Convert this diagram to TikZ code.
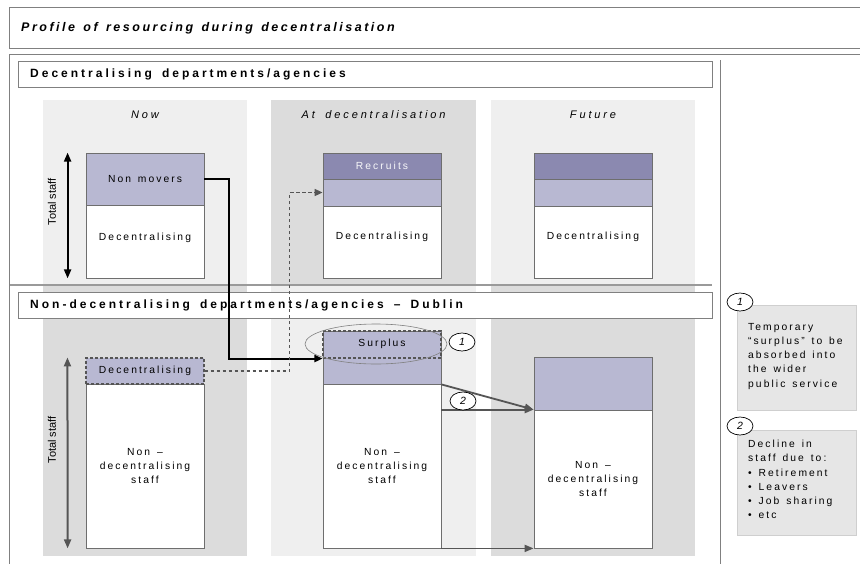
\documentclass[tikz,border=0pt]{standalone}
\usepackage{fontspec}
\setmainfont{Liberation Sans}
\newfontfamily\spf{Liberation Sans}[LetterSpace=20,WordSpace=1.5]
\newfontfamily\hdf{Liberation Sans}[LetterSpace=26,WordSpace=1.8]
\newfontfamily\ttlf{Liberation Sans}[LetterSpace=20,WordSpace=1.4]
\newfontfamily\hbf{Liberation Sans Bold}[LetterSpace=25,WordSpace=1.6]
\usetikzlibrary{arrows.meta,shapes.geometric}
\definecolor{frameC}{HTML}{808080}
\definecolor{bgL}{HTML}{EFEFEF}
\definecolor{bgD}{HTML}{DCDCDC}
\definecolor{boxC}{HTML}{6E6E6E}
\definecolor{purL}{HTML}{B8B8D2}
\definecolor{purD}{HTML}{8B89B0}
\definecolor{arrC}{HTML}{555555}
\definecolor{noteC}{HTML}{E6E6E6}
\definecolor{noteB}{HTML}{CFCFCF}
\begin{document}
\begin{tikzpicture}[x=1pt,y=-1pt,
  every node/.style={inner sep=0pt},
  txt/.style={font=\spf\fontsize{10.3}{14}\selectfont, align=center},
  box/.style={draw=boxC, line width=0.8pt, minimum width=118pt, txt},
  dbox/.style={box, dashed, draw=arrC, line width=1.1pt, dash pattern=on 3pt off 2pt},
  colhead/.style={font=\hdf\itshape\fontsize{11}{13}\selectfont},
  sechead/.style={draw=frameC, line width=0.9pt, fill=white, minimum width=694pt, minimum height=26pt, anchor=north west},
  sectxt/.style={anchor=west, font=\hbf\fontsize{12}{14}\selectfont},
  tslabel/.style={rotate=90, font=\fontsize{11}{13}\selectfont},
  blk/.style={draw=black, line width=2pt, -{Triangle[length=8pt,width=7pt]}},
  dsh/.style={draw=arrC, line width=1.6pt, dash pattern=on 3.5pt off 2.5pt, -{Triangle[length=8pt,width=7pt]}},
  gar/.style={draw=arrC, line width=1.8pt, -{Triangle[length=9pt,width=7pt]}},
  tsarrow/.style={line width=2pt, {Triangle[length=9pt,width=7pt]}-{Triangle[length=9pt,width=7pt]}},
  num/.style={ellipse, draw=black, line width=0.7pt, fill=white, minimum width=26pt, minimum height=18pt, font=\itshape\fontsize{10.5}{12}\selectfont},
  note/.style={draw=noteB, line width=0.8pt, fill=noteC, minimum width=119pt, anchor=north west},
  notetxt/.style={anchor=north west, align=left, font=\spf\fontsize{10.3}{14.2}\selectfont}
]
\useasboundingbox (0,0) rectangle (860,563);
\fill[white] (0,0) rectangle (860,563);
% column backgrounds
\fill[bgL] (43,100) rectangle (247,285);
\fill[bgD] (271,100) rectangle (476,285);
\fill[bgL] (491,100) rectangle (695,285);
\fill[bgD] (43,285) rectangle (247,556);
\fill[bgL] (271,285) rectangle (476,556);
\fill[bgD] (491,285) rectangle (695,556);
% frames
\draw[frameC, line width=0.9pt] (862,7) -- (9,7) -- (9,48) -- (862,48);
\node[anchor=west, font=\ttlf\bfseries\itshape\fontsize{12.5}{14}\selectfont] (title) at (21,28) {Profile of resourcing during decentralisation};
\draw[frameC, line width=0.9pt] (862,54) -- (9,54) -- (9,565);
\draw[frameC, line width=0.9pt] (720,60) -- (720,565);
\draw[frameC!80, line width=1.2pt] (10,285) -- (712,285);
% section headers
\node[sechead] (h1) at (18,61) {};
\node[sectxt] (h1t) at (30,74) {Decentralising departments/agencies};
% column headings
\node[colhead] (c1) at (145,115) {Now};
\node[colhead] (c2) at (373.5,115) {At decentralisation};
\node[colhead] (c3) at (593,115) {Future};
% top boxes
\node[box, fill=purL, minimum height=52pt] (nowA) at (145,179) {};
\node[box, fill=white, minimum height=73pt] (nowB) at (145,241.5) {};
\node[txt] (tNowA) at (nowA.center) {Non movers};
\node[txt] (tNowB) at ([yshift=4pt]nowB.center) {Decentralising};
\node[box, fill=purD, minimum height=26pt] (atA) at (382,166) {};
\node[txt, text=white!90!purL] (tAtA) at (atA.center) {Recruits};
\node[box, fill=purL, minimum height=27pt] (atB) at (382,192.5) {};
\node[box, fill=white, minimum height=72pt] (atC) at (382,242) {};
\node[txt] (tAtC) at ([yshift=5pt]atC.center) {Decentralising};
\node[box, fill=purD, minimum height=26pt] (fuA) at (593,166) {};
\node[box, fill=purL, minimum height=27pt] (fuB) at (593,192.5) {};
\node[box, fill=white, minimum height=72pt] (fuC) at (593,242) {};
\node[txt] (tFuC) at ([yshift=5pt]fuC.center) {Decentralising};
% total staff top
\draw[tsarrow, black] ([xshift=-18pt]nowA.north west) -- ([xshift=-18pt]nowB.south west);
\node[tslabel] (ts1) at (52,202) {Total staff};
% second section header
\node[sechead] (h2) at (18,292) {};
\node[sectxt] (h2t) at (30,305) {Non-decentralising departments/agencies – Dublin};
% bottom boxes
\node[box, fill=white, minimum height=164pt] (nowBb) at (145,466) {};
\node[txt] (tNowBb) at (nowBb.center) {Non –\\decentralising\\staff};
\node[dbox, fill=purL, minimum height=26pt] (nowBa) at (145,371) {};
\node[txt] (tNowBa) at (nowBa.center) {Decentralising};
\node[box, fill=purL, minimum height=53pt] (atBa) at (382,357.5) {};
\node[box, fill=white, minimum height=164pt] (atBb) at (382,466) {};
\node[txt] (tAtBb) at (atBb.center) {Non –\\decentralising\\staff};
\node[dbox, minimum height=27pt] (surp) at (382,344.5) {};
\node[txt] (tSurp) at ([yshift=1pt]surp.center) {Surplus};
\node[ellipse, draw=frameC, line width=0.6pt, minimum width=142pt, minimum height=40pt] (surE) at (376,344) {};
\node[box, fill=purL, minimum height=53pt] (fuBa) at (593,383.5) {};
\node[box, fill=white, minimum height=138pt] (fuBb) at (593,479) {};
\node[txt] (tFuBb) at (fuBb.center) {Non –\\decentralising\\staff};
% total staff bottom
\draw[tsarrow, arrC] ([xshift=-18pt]nowBa.north west) -- ([xshift=-18pt]nowBb.south west);
\node[tslabel] (ts2) at (52,440) {Total staff};
% connectors
\draw[blk] (nowA.east) -- ++(25,0) |- (surp.south west);
\draw[dsh] (nowBa.east) -- ++(85,0) |- (atB.west);
\draw[gar] (atBa.south east) -- (fuBb.north west);
\draw[gar] (atBb.east |- fuBb.north west) -- (fuBb.north west);
\draw[gar] (atBb.south east) -- (fuBb.south west);
% numbered markers
\node[num] (n1) at (462,342) {1};
\node[num] (n2) at (463,401) {2};
% notes
\node[note, minimum height=105pt] (note1) at (737,305) {};
\node[notetxt] (tNote1) at (748,323) {Temporary\\“surplus” to be\\absorbed into\\the wider\\public service};
\node[num] (m1) at (740,302) {1};
\node[note, minimum height=105pt] (note2) at (737,430) {};
\node[notetxt] (tNote2) at (748,440) {Decline in\\staff due to:\\• Retirement\\• Leavers\\• Job sharing\\• etc};
\node[num] (m2) at (740,426) {2};
\end{tikzpicture}
\end{document}
